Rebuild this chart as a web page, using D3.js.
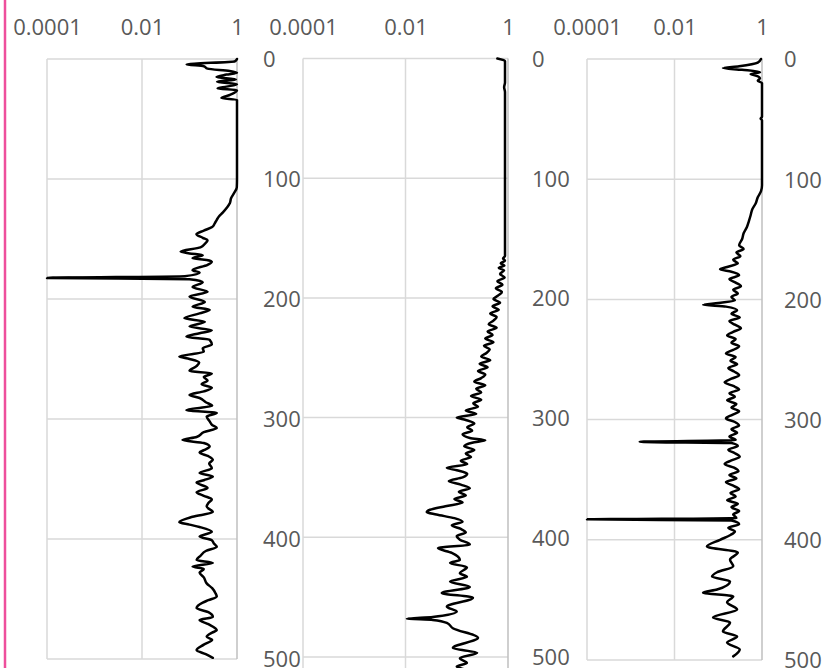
<!DOCTYPE html>
<html><head><meta charset="utf-8">
<script src="https://cdn.jsdelivr.net/npm/d3@7"></script>
<style>html,body{margin:0;padding:0;background:#fff;overflow:hidden}</style>
</head><body><svg id="c" width="822" height="668"></svg>
<script>
// ---- data ----
const xTickValues = [0.0001, 0.01, 1];
const xTickLabels = ["0.0001", "0.01", "1"];
const depthTicks1 = [0, 100, 200, 300, 400, 500];
const depthTicks2 = [0, 100, 200, 300, 400, 500];
const depthTicks3 = [0, 100, 200, 300, 400, 500];

const depth1 = [0,2,4.5,6,8,10,11.5,13,15,17,19,21,23,24.5,26,30,32.5,34,40,60,80,100,107,112,116,120,124,128,131,134,137,140,143,146,149,151,154,157,160.5,162,163.5,166,167.5,169,171.5,176,178,181,182.5,183.5,186,190,194,198,202.5,206.5,209,212,216,219,223,226,228.5,231.5,234,238,241,244,248,250,253,256,260,262,265,268,271,274,277,280,282.5,286,289,292.5,295,298,302,305,307.5,311,315,317.5,320,323,326,328,331,334,337,341,345,348,351,353,357.5,361,364,367,370,373,377.5,381.5,386,388,390,394,398,401,404,406.5,410,414,417.5,420,423,425,428,432,437,441,445,448,451,453,457.5,461,465,467.5,471,476,478,481.5,484,488,492.5,496,499];
const value1 = [1,0.9,0.087,0.2,0.24,0.7,1,0.6,0.37,0.95,0.38,1,0.6,0.39,1,0.7,0.47,1,1,1,1,1,0.99,0.86,0.75,0.71,0.61,0.5,0.42,0.375,0.34,0.3,0.2,0.14,0.19,0.24,0.21,0.17,0.065,0.1,0.19,0.116,0.23,0.295,0.24,0.116,0.163,0.08,0.0001,0.1,0.19,0.116,0.24,0.1,0.21,0.116,0.266,0.163,0.078,0.21,0.1,0.295,0.163,0.086,0.266,0.295,0.19,0.2,0.061,0.1,0.16,0.14,0.1,0.295,0.2,0.24,0.18,0.295,0.2,0.1,0.163,0.22,0.3,0.086,0.375,0.23,0.266,0.3,0.375,0.2,0.141,0.071,0.2,0.266,0.2,0.163,0.25,0.31,0.26,0.295,0.163,0.31,0.2,0.141,0.24,0.141,0.2,0.295,0.25,0.23,0.31,0.116,0.061,0.1,0.163,0.295,0.163,0.295,0.33,0.375,0.22,0.17,0.141,0.31,0.116,0.2,0.163,0.2,0.23,0.3,0.35,0.375,0.25,0.19,0.141,0.25,0.31,0.163,0.25,0.375,0.3,0.23,0.3,0.2,0.141,0.22,0.31];

const depth2 = [0,2,20,24,28,60,100,140,165,167,169,171,173,175,177,180,183,186,189,192,195,198,201,204,207,210,213,216,219,222,225,228,231,234,237,240,243,246,249,252,255,258,261,264,267,270,273,276,279,282,285,288,291,294,297,300,302,305,308,311,314,317,319,321,324,327,330,333,336,339,342,344,347,350,353,356,359,362,365,368,371,374,377,379,381,384,387,390,393,396,399,402,406,409,413,419,421.5,425,430,433,437,441.5,446.5,450.5,458,462,466.5,468,469,471.5,476,484,492.5,496.5,501,505,508,511,515,520];
const value2 = [0.62,0.874,0.874,0.84,0.874,0.874,0.874,0.874,0.874,0.8,0.874,0.72,0.85,0.66,0.84,0.7,0.86,0.62,0.78,0.58,0.76,0.64,0.52,0.7,0.5,0.66,0.45,0.6,0.52,0.42,0.6,0.4,0.5,0.36,0.52,0.34,0.44,0.38,0.3,0.45,0.28,0.4,0.26,0.36,0.3,0.22,0.36,0.24,0.3,0.19,0.3,0.21,0.26,0.15,0.24,0.1,0.15,0.22,0.16,0.2,0.13,0.18,0.36,0.2,0.14,0.22,0.15,0.19,0.12,0.16,0.064,0.1,0.16,0.13,0.07,0.12,0.18,0.11,0.15,0.09,0.13,0.06,0.03,0.026,0.04,0.09,0.13,0.08,0.12,0.15,0.1,0.115,0.18,0.043,0.08,0.115,0.074,0.158,0.115,0.158,0.074,0.18,0.051,0.207,0.064,0.1,0.034,0.0106,0.034,0.064,0.084,0.26,0.084,0.25,0.115,0.158,0.1,0.15,0.12,0.17];

const depth3 = [0,3,6,7.5,9,11,12.5,14,16,18,20,48,49.5,51,105,110,115,120,125,130,135,140,145,150,155,158,161,164,167,170,173,175,177,180,183,186,189,192,195,198,201,203,204.5,206,209,212,215,218,221,224,227,230,233,236,239,242,245,248,251,254,257,260,263,266,269,272,275,278,281,284,287,290,293,296,299,302,305,308,311,314,317,318.5,319.5,322,325,328,331,334,337,340,343,346,349,352,355,358,361,364,367,370,373,376,379,382,383,384,387,390,393,396,400,405.6,410.6,416.5,422,427,430.6,434.7,441.4,444,447,452,458,464.7,468.8,476.3,480.5,485.5,491.3,497];
const value3 = [0.95,0.8,0.3,0.128,0.35,0.9,0.55,0.75,0.9,0.8,1,1,0.93,1,1,0.95,0.8,0.72,0.6,0.55,0.5,0.45,0.38,0.35,0.3,0.38,0.26,0.32,0.22,0.28,0.16,0.11,0.2,0.3,0.18,0.25,0.33,0.22,0.28,0.2,0.24,0.1,0.045,0.15,0.27,0.2,0.31,0.18,0.24,0.33,0.22,0.16,0.25,0.2,0.3,0.22,0.15,0.25,0.19,0.27,0.17,0.23,0.3,0.2,0.14,0.22,0.3,0.18,0.24,0.16,0.26,0.2,0.3,0.21,0.15,0.24,0.3,0.2,0.27,0.18,0.25,0.0016,0.2,0.28,0.17,0.24,0.31,0.2,0.14,0.23,0.29,0.18,0.26,0.15,0.22,0.3,0.19,0.25,0.16,0.28,0.2,0.3,0.22,0.26,0.0001,0.2,0.3,0.17,0.24,0.19,0.11,0.055,0.28,0.186,0.22,0.094,0.072,0.186,0.094,0.045,0.22,0.159,0.27,0.076,0.186,0.128,0.27,0.159,0.31,0.22];

// ---- layout ----
const panels = [
  {left: 47,  right: 237, top: 59,   bottom: 659,   maxDepth: 500, gridBottom: 659, labelX: 263, ticks: depthTicks1, depth: depth1, value: value1},
  {left: 303, right: 508, top: 58.5, bottom: 776.7, maxDepth: 600, gridBottom: 776.7, labelX: 532, ticks: depthTicks2, depth: depth2, value: value2},
  {left: 587, right: 762, top: 59,   bottom: 660,   maxDepth: 500, gridBottom: 660, labelX: 784, ticks: depthTicks3, depth: depth3, value: value3}
];
const FONT = "'Open Sans', 'Noto Sans', sans-serif";
const FONT_SIZE = "22px";
const TEXT_COLOR = "#595959";
const GRID = "#d9d9d9";
const AXIS = "#bfbfbf";

const svg = d3.select("#c");
svg.append("rect").attr("width", 822).attr("height", 668).attr("fill", "#fff");

panels.forEach(p => {
  const x = d3.scaleLog().domain([0.0001, 1]).range([p.left, p.right]);
  const y = d3.scaleLinear().domain([0, p.maxDepth]).range([p.top, p.bottom]);
  const g = svg.append("g");

  // horizontal gridlines
  g.append("g").selectAll("line").data(p.ticks).join("line")
    .attr("x1", p.left).attr("x2", p.right)
    .attr("y1", d => y(d)).attr("y2", d => y(d))
    .attr("stroke", GRID).attr("stroke-width", 1.5);
  // vertical gridlines
  g.append("g").selectAll("line").data(xTickValues).join("line")
    .attr("x1", d => x(d)).attr("x2", d => x(d))
    .attr("y1", p.top).attr("y2", p.gridBottom)
    .attr("stroke", (d, i) => i === xTickValues.length - 1 ? AXIS : GRID).attr("stroke-width", 1.5);

  // x axis labels (top)
  const xa = g.append("g").attr("transform", "translate(0,35)")
    .call(d3.axisTop(x).tickValues(xTickValues).tickFormat((d, i) => xTickLabels[i]).tickSize(0).tickPadding(0));
  xa.select(".domain").remove();
  xa.attr("font-family", FONT).attr("font-size", FONT_SIZE).attr("color", TEXT_COLOR);

  // y axis labels (right)
  const ya = g.append("g").attr("transform", `translate(${p.labelX},0)`)
    .call(d3.axisRight(y).tickValues(p.ticks).tickSize(0).tickPadding(0));
  ya.select(".domain").remove();
  ya.attr("font-family", FONT).attr("font-size", FONT_SIZE).attr("color", TEXT_COLOR);
  ya.selectAll("text").attr("dy", "0.36em");

  // trace
  const pts = p.depth.map((d, i) => ({d: d, v: p.value[i]}));
  const line = d3.line().x(d => x(d.v)).y(d => y(d.d)).curve(d3.curveMonotoneY);
  g.append("path").datum(pts).attr("d", line)
    .attr("fill", "none").attr("stroke", "#000").attr("stroke-width", 2.5)
    .attr("stroke-linejoin", "round").attr("stroke-linecap", "round");
});

// pink left border line
svg.append("line").attr("x1", 5).attr("x2", 5).attr("y1", 0).attr("y2", 668)
  .attr("stroke", "#ee4f9c").attr("stroke-width", 2.5);
</script>
</body></html>
